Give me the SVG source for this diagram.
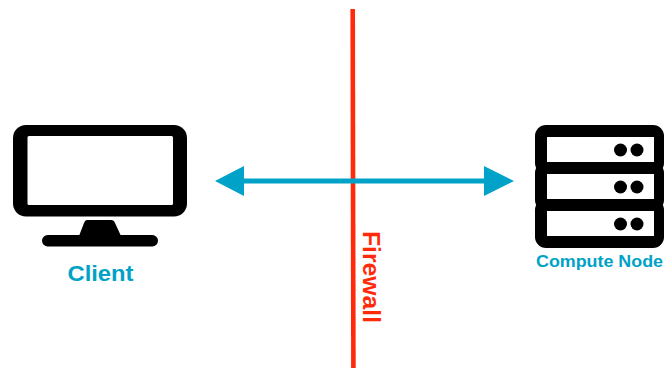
<svg xmlns="http://www.w3.org/2000/svg" width="664" height="368" viewBox="0 0 664 368">
<style>
.lbl{font-family:"Liberation Sans",Arial,sans-serif;font-weight:700}
.blue{fill:#00a2c7}
.dot{fill:#000}
</style>
<rect width="664" height="368" fill="#fff"/>
<g id="firewall">
<line x1="352.7" y1="9" x2="353.4" y2="368" stroke="#ff2a0a" stroke-width="4.6"/>
<text class="lbl" transform="translate(363,231) rotate(90)" font-size="24.5" fill="#ff2a0a" textLength="92" lengthAdjust="spacingAndGlyphs">Firewall</text>
</g>
<g id="connectors">
<line x1="240" y1="181" x2="490" y2="181" stroke="#00a2c7" stroke-width="5"/>
<polygon class="blue" points="215,181 244,166 244,196"/>
<polygon class="blue" points="514,181 484,166 484,196"/>
</g>
<g id="client">
<rect x="13" y="125" width="174" height="91.500" rx="13" fill="#000"/>
<rect x="27.500" y="136" width="145.500" height="69" rx="1.500" fill="#fff"/>
<path d="M87 220H111Q114 220 115 223L121 236H79L84 223Q85 220 87 220Z" fill="#000"/>
<rect x="42" y="235" width="116" height="11.500" rx="5.700" fill="#000"/>
<text class="lbl blue" x="67.500" y="280.500" font-size="22" textLength="66" lengthAdjust="spacingAndGlyphs">Client</text>
</g>
<g id="compute-node">
<rect x="535" y="125" width="129" height="49" rx="11" fill="#000"/>
<rect x="535" y="162" width="129" height="49" rx="11" fill="#000"/>
<rect x="535" y="199" width="129" height="49" rx="11" fill="#000"/>
<rect x="547" y="137" width="107" height="25" fill="#fff"/>
<rect x="547" y="174" width="107" height="25" fill="#fff"/>
<rect x="547" y="211" width="107" height="25" fill="#fff"/>
<circle class="dot" cx="620.500" cy="150" r="6.500"/><circle class="dot" cx="637" cy="150" r="6.500"/>
<circle class="dot" cx="620.500" cy="187" r="6.500"/><circle class="dot" cx="637" cy="187" r="6.500"/>
<circle class="dot" cx="620.500" cy="224" r="6.500"/><circle class="dot" cx="637" cy="224" r="6.500"/>
<text class="lbl blue" x="536" y="267" font-size="17" textLength="127" lengthAdjust="spacingAndGlyphs">Compute Node</text>
</g>
</svg>
